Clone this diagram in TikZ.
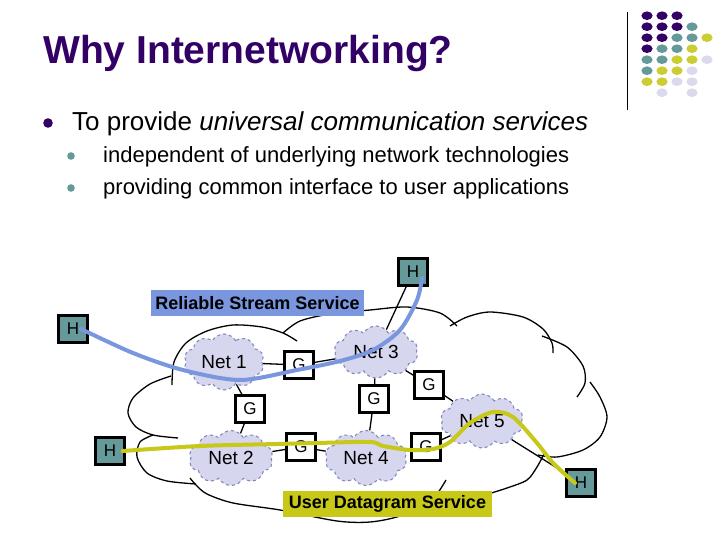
\documentclass[tikz,border=0pt]{standalone}
\usepackage{fontspec}
\setmainfont{Liberation Sans}
\usetikzlibrary{
  shapes.symbols,
  positioning
}

\definecolor{slidepurple}{RGB}{51,0,102}
\definecolor{hostteal}{RGB}{102,153,153}
\definecolor{dotolive}{RGB}{204,204,51}
\definecolor{dotlavender}{RGB}{218,218,236}
\definecolor{cloudfill}{RGB}{214,214,238}
\definecolor{cloudedge}{RGB}{128,138,190}
\definecolor{streamblue}{RGB}{122,150,222}
\definecolor{datagramolive}{RGB}{200,200,25}

\begin{document}
\begin{tikzpicture}[
  x=1pt,
  y=-1pt,
  outline/.style={line width=1.3pt, black},
  netcloud/.style={cloud, cloud puffs=10, cloud puff arc=120,
    cloud ignores aspect, draw=cloudedge, dashed, line width=1.1pt,
    fill=cloudfill, inner sep=0pt, font=\fontsize{19}{19}\selectfont},
  gatebox/.style={draw=black, line width=2.2pt, fill=white,
    minimum width=29pt, minimum height=27pt, inner sep=0pt,
    font=\fontsize{17}{17}\selectfont},
  hostbox/.style={gatebox, fill=hostteal},
  wire/.style={line width=1.3pt, black},
  streamline/.style={line width=4pt, streamblue, line cap=round},
  datagramline/.style={line width=4pt, datagramolive, line cap=round},
  servicelabel/.style={inner sep=0pt, minimum height=26pt,
    font=\fontsize{18}{18}\bfseries}
]
  \useasboundingbox[fill=white] (0,0) rectangle (720,540);

  % Slide heading and bullet list.
  \node[anchor=base west, inner sep=0pt, slidepurple,
    font=\fontsize{39}{39}\bfseries] (title) at (43,64)
    {Why Internetworking?};
  \fill[slidepurple] (48,123) circle (4.8);
  \node[anchor=base west, inner sep=0pt,
    font=\fontsize{26}{26}\selectfont] (aim) at (72,131)
    {To provide \textit{universal communication services}};
  \fill[hostteal] (71,156) circle (3.8);
  \node[anchor=base west, inner sep=0pt,
    font=\fontsize{22}{22}\selectfont] (indep) at (103,163)
    {independent of underlying network technologies};
  \fill[hostteal] (71,188) circle (3.8);
  \node[anchor=base west, inner sep=0pt,
    font=\fontsize{22}{22}\selectfont] (common) at (103,195)
    {providing common interface to user applications};

  % Decorative rule and dot pattern in the corner.
  \draw[line width=1pt] (627,12) -- (627,110);
  \foreach \col/\row/\clr in {1/1/slidepurple, 2/1/slidepurple, 3/1/slidepurple,
      1/2/slidepurple, 2/2/slidepurple, 3/2/slidepurple, 4/2/hostteal,
      1/3/slidepurple, 2/3/slidepurple, 3/3/hostteal, 4/3/hostteal, 5/3/dotolive,
      1/4/slidepurple, 2/4/hostteal, 3/4/hostteal, 4/4/dotolive,
      1/5/hostteal, 2/5/hostteal, 3/5/dotolive, 4/5/dotolive, 5/5/dotlavender,
      1/6/hostteal, 2/6/dotolive, 3/6/dotolive, 4/6/dotlavender,
      1/7/dotolive, 2/7/dotolive, 3/7/dotlavender, 4/7/dotlavender,
      2/8/dotlavender, 4/8/dotlavender}
    \fill[\clr] (632+15*\col,4.7+11*\row) ellipse (5.6 and 4.3);

  % Outline of the internet cloud, one lobe at a time.
  \draw[outline] plot[smooth] coordinates {(171,376) (150,384) (133,398)
    (128,413) (136,427) (153,435) (178,438)};
  \draw[outline] plot[smooth] coordinates {(172,385) (174,362) (186,343)
    (207,331) (233,325) (262,327) (283,333) (297,341)};
  \draw[outline] plot[smooth] coordinates {(283,333) (300,321) (330,314)
    (370,310) (407,307) (440,313) (457,326)};
  \draw[outline] plot[smooth] coordinates {(450,326) (467,317) (490,312)
    (523,317) (543,329) (552,343) (553,353)};
  \draw[outline] plot[smooth] coordinates {(542,336) (567,347) (583,366)
    (585,383) (577,397)};
  \draw[outline] plot[smooth] coordinates {(590,382) (600,397) (607,417)
    (600,437) (583,450) (557,457) (538,455)};
  \draw[outline] plot[smooth] coordinates {(545,452) (537,467) (527,480)
    (507,488) (488,494)};
  \draw[outline] plot[smooth] coordinates {(190,478) (196,485) (207,494)
    (233,503) (280,510) (337,521) (370,522) (400,516) (430,502) (446,480)};
  \draw[outline] plot[smooth] coordinates {(153,435) (140,442) (137,457)
    (147,473) (167,481) (196,484)};

  % Networks, gateways and hosts.
  \node[netcloud, minimum width=80pt, minimum height=56pt] (net1) at (224,362) {Net 1};
  \node[netcloud, minimum width=84pt, minimum height=52pt] (net3) at (376,352) {Net 3};
  \node[netcloud, minimum width=84pt, minimum height=55pt] (net2) at (231,458) {Net 2};
  \node[netcloud, minimum width=82pt, minimum height=55pt] (net4) at (366,458) {Net 4};
  \node[netcloud, minimum width=83pt, minimum height=54pt] (net5) at (482,421) {Net 5};

  \node[gatebox] (g13) at (299,365) {G};
  \node[gatebox] (g12) at (250,409) {G};
  \node[gatebox] (g34) at (374,399) {G};
  \node[gatebox] (g35) at (429,385) {G};
  \node[gatebox] (g24) at (301,447) {G};
  \node[gatebox] (g45) at (426,447) {G};

  \node[hostbox] (h1) at (73,329) {H};
  \node[hostbox] (h2) at (110,451) {H};
  \node[hostbox] (h3) at (413,272) {H};
  \node[hostbox] (h4) at (581,483) {H};

  % Physical links.
  \draw[wire] (net1) -- (g13) (g13) -- (net3);
  \draw[wire] (net1) -- (g12) (g12) -- (net2);
  \draw[wire] (net3) -- (g34) (g34) -- (net4);
  \draw[wire] (net3) -- (g35) (g35) -- (net5);
  \draw[wire] (net2) -- (g24) (g24) -- (net4);
  \draw[wire] (net4) -- (g45) (g45) -- (net5);
  \draw[wire] (h3) -- (net3);
  \draw[wire] (net5) -- (h4);

  % End-to-end services.
  \draw[streamline] plot[smooth] coordinates {([xshift=8pt]h1.center)
    (133,353) (183,370) (240,380) (297,370) (340,361) (373,350)
    (400,330) (417,300) ([xshift=9pt,yshift=-6pt]h3.center)};
  \draw[datagramline] plot[smooth] coordinates {([xshift=-3pt]h2.east)
    (200,446) (277,444) (317,443) (370,442) (383,446) (410,450)
    (433,449) (450,442) (470,423) (493,412) (513,417) (537,443)
    (553,463) ([xshift=-6pt]h4.center)};

  \node[servicelabel, fill=streamblue, minimum width=213pt] (stream)
    at (257.5,303) {Reliable Stream Service};
  \node[servicelabel, fill=datagramolive, minimum width=209pt] (datagram)
    at (387.5,503.5) {User Datagram Service};

\end{tikzpicture}
\end{document}
